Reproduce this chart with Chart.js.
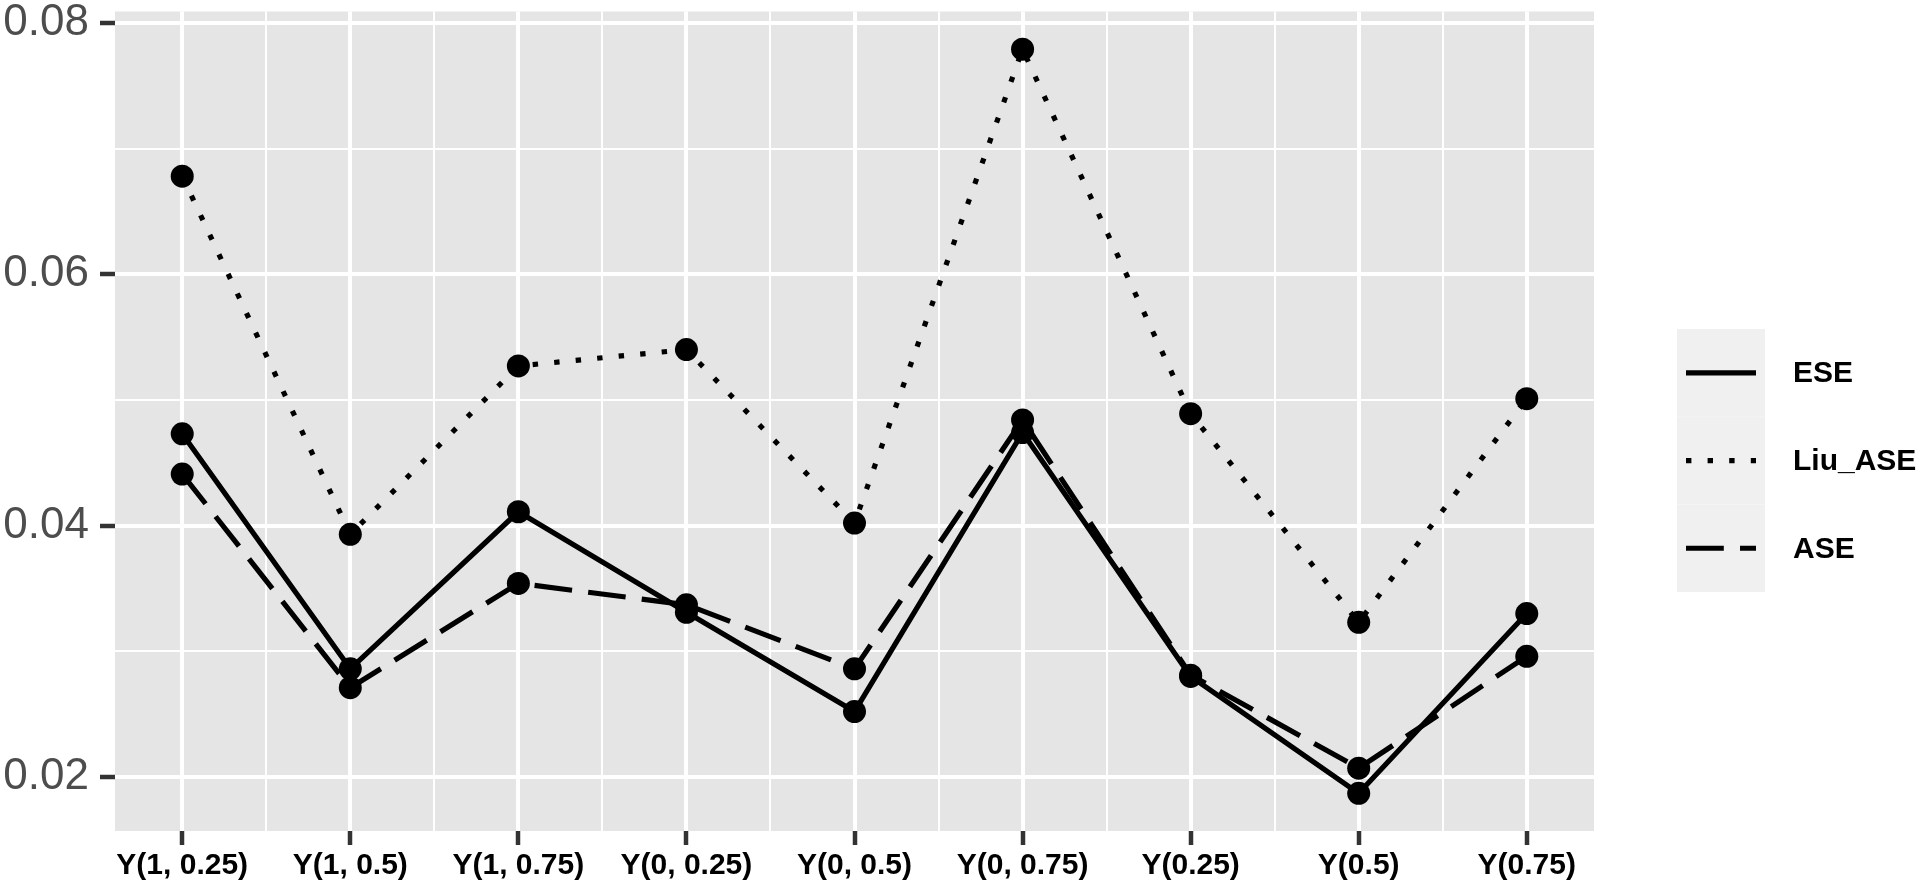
<!DOCTYPE html>
<html><head><meta charset="utf-8">
<script src="https://cdn.jsdelivr.net/npm/chart.js@4.4.0/dist/chart.umd.min.js"></script>
<style>html,body{margin:0;padding:0;background:#fff;overflow:hidden}</style>
</head><body>
<canvas id="c" width="1920" height="889" style="display:block;width:1920px;height:889px"></canvas>
<script>
const categories = ['Y(1, 0.25)','Y(1, 0.5)','Y(1, 0.75)','Y(0, 0.25)','Y(0, 0.5)','Y(0, 0.75)','Y(0.25)','Y(0.5)','Y(0.75)'];
const seriesNames = ['ESE','Liu_ASE','ASE'];
const ese    = [0.0473, 0.0286, 0.0411, 0.0331, 0.0252, 0.0474, 0.0280, 0.0187, 0.0330];
const liuAse = [0.0678, 0.0393, 0.0527, 0.0540, 0.0402, 0.0779, 0.0489, 0.0323, 0.0501];
const ase    = [0.0441, 0.0271, 0.0354, 0.0337, 0.0286, 0.0484, 0.0281, 0.0207, 0.0296];
const yMajorTicks = [0.02, 0.04, 0.06, 0.08];
const yMinorTicks = [0.03, 0.05, 0.07];

const toPts = arr => arr.map((v, i) => ({x: i, y: v}));
const isMajorX = v => Math.abs(v - Math.round(v)) < 1e-9;
const isMajorY = v => yMajorTicks.some(t => Math.abs(t - v) < 1e-9);

const panelBg = {
  id: 'panelBg',
  beforeDraw(chart) {
    const a = chart.chartArea, ctx = chart.ctx;
    ctx.save();
    ctx.fillStyle = '#E5E5E5';
    ctx.fillRect(a.left, a.top, a.right - a.left, a.bottom - a.top);
    ctx.restore();
  }
};

const ggLegend = {
  id: 'ggLegend',
  afterDraw(chart) {
    const ctx = chart.ctx;
    const x0 = 1677, y0 = 329, w = 88, rowH = 87.7;
    ctx.save();
    chart.data.datasets.forEach((ds, i) => {
      const top = y0 + i * rowH;
      ctx.fillStyle = '#F0F0F0';
      ctx.fillRect(x0, top, w, rowH);
      const cy = top + rowH / 2;
      ctx.strokeStyle = '#000';
      ctx.lineWidth = ds.borderWidth;
      ctx.lineCap = 'butt';
      ctx.setLineDash(ds.borderDash || []);
      ctx.beginPath();
      ctx.moveTo(x0 + 9, cy);
      ctx.lineTo(x0 + 79, cy);
      ctx.stroke();
      ctx.setLineDash([]);
      ctx.fillStyle = '#000';
      ctx.font = 'bold 30px "Liberation Sans"';
      ctx.textBaseline = 'middle';
      ctx.textAlign = 'left';
      ctx.fillText(ds.label, 1793, cy + 1);
    });
    ctx.restore();
  }
};

const mkDs = (label, data, dash) => ({
  label, data: toPts(data),
  borderColor: '#000', backgroundColor: '#000',
  borderWidth: 5.2, borderDash: dash, borderCapStyle: 'butt', borderJoinStyle: 'round',
  pointRadius: 11.5, pointHoverRadius: 11.5, pointBackgroundColor: '#000', pointBorderWidth: 0,
  tension: 0, fill: false
});

new Chart(document.getElementById('c'), {
  type: 'line',
  data: {
    datasets: [
      mkDs(seriesNames[0], ese, []),
      mkDs(seriesNames[1], liuAse, [5.4, 16.2]),
      mkDs(seriesNames[2], ase, [37.8, 16.2])
    ]
  },
  options: {
    responsive: false, animation: false,
    layout: {padding: {top: 8, right: 326, left: 0, bottom: 0}},
    plugins: {legend: {display: false}, tooltip: {enabled: false}},
    scales: {
      x: {
        type: 'linear', min: -0.4, max: 8.4,
        afterBuildTicks(s) {
          const t = [];
          for (let i = 0; i < categories.length; i++) { t.push({value: i}); if (i < categories.length - 1) t.push({value: i + 0.5}); }
          s.ticks = t;
        },
        afterFit(s) { s.height = 58; s.paddingLeft = 0; s.paddingRight = 0; },
        border: {display: false},
        grid: {
          color: '#FFFFFF',
          lineWidth: c => isMajorX(c.tick.value) ? 4 : 2,
          drawTicks: true, tickLength: 14,
          tickColor: c => isMajorX(c.tick.value) ? '#333333' : 'rgba(0,0,0,0)',
          tickWidth: 4.5
        },
        ticks: {
          autoSkip: false, maxRotation: 0, minRotation: 0, padding: 3,
          color: '#000',
          font: {family: 'Liberation Sans', size: 30, weight: 'bold'},
          callback: v => isMajorX(v) ? categories[Math.round(v)] : ''
        }
      },
      y: {
        type: 'linear', min: 0.0157, max: 0.0809,
        afterBuildTicks(s) {
          s.ticks = yMajorTicks.concat(yMinorTicks).sort((a, b) => a - b).map(v => ({value: v}));
        },
        afterFit(s) { s.width = 115; s.paddingTop = 0; s.paddingBottom = 0; },
        border: {display: false},
        grid: {
          color: '#FFFFFF',
          lineWidth: c => isMajorY(c.tick.value) ? 4 : 2,
          drawTicks: true, tickLength: 15,
          tickColor: c => isMajorY(c.tick.value) ? '#333333' : 'rgba(0,0,0,0)',
          tickWidth: 4.5
        },
        ticks: {
          padding: 11, color: '#4D4D4D',
          font: {family: 'Liberation Sans', size: 44},
          callback: v => isMajorY(v) ? v.toFixed(2) : ''
        }
      }
    }
  },
  plugins: [panelBg, ggLegend]
});
</script>
</body></html>
